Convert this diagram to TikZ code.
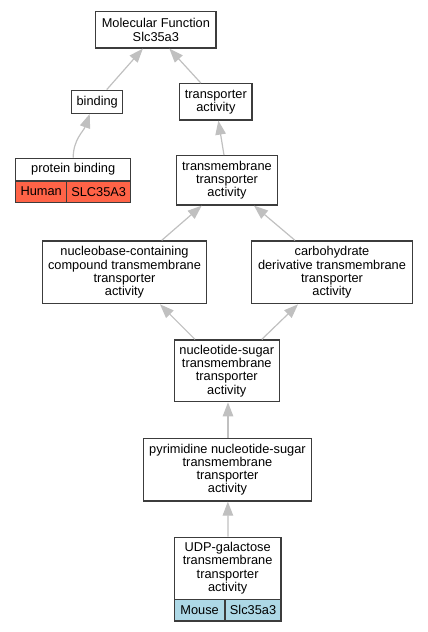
\documentclass[tikz,border=0pt]{standalone}
\usepackage{fontspec}
\setmainfont{Liberation Sans}
\usetikzlibrary{arrows.meta}
\definecolor{edgegray}{RGB}{192,192,192}
\definecolor{boxline}{RGB}{60,60,60}
\definecolor{humanred}{RGB}{255,99,71}
\definecolor{mouseblue}{RGB}{173,216,230}
\begin{document}
\begin{tikzpicture}[x=1pt,y=-1pt,
  box/.style={draw=boxline,line width=1.3pt,fill=white,inner sep=0pt,align=center,
    font=\fontsize{12.8}{13.3}\selectfont,text=black},
  cell/.style={box},
  edge/.style={draw=edgegray,line width=1.2pt,-{Triangle[length=14pt,width=10.5pt]}}]
\path[use as bounding box] (0,0) rectangle (428,632);
\node[box,minimum width=120.3pt,minimum height=36.3pt] (mf) at (155.85,29.85) {Molecular Function\\Slc35a3};
\node[box,minimum width=51pt,minimum height=23pt] (bind) at (97.2,101.8) {binding};
\node[box,minimum width=72.3pt,minimum height=36.3pt] (ta) at (215.85,101.85) {transporter\\activity};
\node[box,minimum width=115pt,minimum height=22.7pt] (pb) at (73.2,169.65) {protein binding};
\node[cell,fill=humanred,minimum width=51pt,minimum height=21.3pt] (pbh) at (41.2,191.65) {Human};
\node[cell,fill=humanred,minimum width=64pt,minimum height=21.3pt] (pbg) at (98.7,191.65) {SLC35A3};
\node[box,minimum width=100.6pt,minimum height=49.3pt] (tm) at (227,180.35) {transmembrane\\transporter\\activity};
\node[box,minimum width=164.4pt,minimum height=62.7pt] (nb) at (124.5,272.35) {nucleobase-containing\\compound transmembrane\\transporter\\activity};
\node[box,minimum width=160.6pt,minimum height=62.7pt] (cd) at (332,272.35) {carbohydrate\\derivative transmembrane\\transporter\\activity};
\node[box,minimum width=105pt,minimum height=61.7pt] (ns) at (226.8,370.85) {nucleotide-sugar\\transmembrane\\transporter\\activity};
\node[box,minimum width=168.4pt,minimum height=62.7pt] (py) at (227.5,469.65) {pyrimidine nucleotide-sugar\\transmembrane\\transporter\\activity};
\node[box,minimum width=106.7pt,minimum height=62pt] (udp) at (227.65,568.3) {UDP-galactose\\transmembrane\\transporter\\activity};
\node[cell,fill=mouseblue,minimum width=50.7pt,minimum height=21.7pt] (udpm) at (199.65,610.15) {Mouse};
\node[cell,fill=mouseblue,minimum width=56pt,minimum height=21.7pt] (udpg) at (253,610.15) {Slc35a3};
\path[edge] ([xshift=9.5pt]bind.north) -- ([xshift=-13pt]mf.south);
\path[edge] ([xshift=-15pt]ta.north) -- ([xshift=13.5pt]mf.south);
\path[edge] (pb.north) .. controls ([yshift=18pt]pb.north) and ([xshift=-13.5pt,yshift=-17pt]bind.south) .. ([xshift=-7.5pt]bind.south);
\path[edge] ([xshift=-3pt]tm.north) -- ([xshift=2.5pt]ta.south);
\path[edge] ([xshift=37.2pt]nb.north) -- ([xshift=-25.3pt]tm.south);
\path[edge] ([xshift=-37pt]cd.north) -- ([xshift=27pt]tm.south);
\path[edge] ([xshift=-31.8pt]ns.north) -- ([xshift=35.5pt]nb.south);
\path[edge] ([xshift=35pt]ns.north) -- ([xshift=-34pt]cd.south);
\path[edge] ([xshift=0.5pt]py.north) -- ([xshift=1.2pt]ns.south);
\path[edge] ([xshift=0.35pt]udp.north) -- ([xshift=0.35pt]py.south);
\end{tikzpicture}
\end{document}
